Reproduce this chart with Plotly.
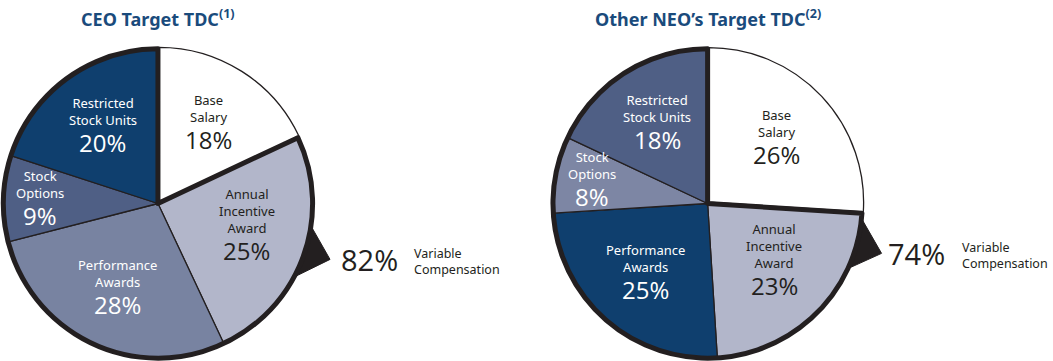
import math
import plotly.graph_objects as go

# ---- data ----
components = ["Base Salary", "Annual Incentive Award", "Performance Awards", "Stock Options", "Restricted Stock Units"]
label_lines = ["Base<br>Salary", "Annual<br>Incentive<br>Award", "Performance<br>Awards", "Stock<br>Options", "Restricted<br>Stock Units"]
ceo_values = [18, 25, 28, 9, 20]
neo_values = [26, 23, 25, 8, 18]
ceo_variable = 82
neo_variable = 74
titles = ["CEO Target TDC<sup>(1)</sup>", "Other NEO’s Target TDC<sup>(2)</sup>"]

# ---- styles ----
W, H = 1053, 361
MT, MB = 47, 1
PH = H - MT - MB
FONT = "Noto Sans"
PFONT = "Open Sans"
DARK = "#231f20"
ceo_colors = ["#ffffff", "#b2b6ca", "#7883a1", "#4f5f85", "#0f3f6e"]
neo_colors = ["#ffffff", "#b2b6ca", "#0f3f6e", "#7d86a4", "#4f5f85"]
ceo_text_colors = [DARK, DARK, "white", "white", "white"]
neo_text_colors = [DARK, DARK, "white", "white", "white"]
PULL = 0.012
domains = [[0.0, 0.30], [0.522, 0.822]]

fig = go.Figure()
for vals, cols, dom in [(ceo_values, ceo_colors, domains[0]),
                        (neo_values, neo_colors, domains[1])]:
    fig.add_trace(go.Pie(
        values=vals, labels=components, textinfo="none",
        marker=dict(colors=cols, line=dict(color=DARK, width=1.3)),
        sort=False, direction="clockwise", rotation=0,
        pull=[PULL, 0, 0, 0, 0], domain=dict(x=dom, y=[0, 1]),
        hoverinfo="label+percent", showlegend=False,
    ))
    # thick outline around the variable-compensation group
    fig.add_trace(go.Pie(
        values=[vals[0], sum(vals[1:])], labels=["fixed", "variable"],
        textinfo="none", marker=dict(colors=["rgba(0,0,0,0)", "rgba(0,0,0,0)"],
                                     line=dict(color=DARK, width=[0, 5])),
        sort=False, direction="clockwise", rotation=0,
        pull=[PULL, 0], domain=dict(x=dom, y=[0, 1]),
        hoverinfo="skip", showlegend=False,
    ))

R = PH / 2 / (1 + PULL)


def to_paper(px, py):
    return px / W, (H - MB - py) / PH


shapes = []
annotations = []
for dom, vals, tcols, var, title, (a0, a1, at, off1, off2) in [
        (domains[0], ceo_values, ceo_text_colors, ceo_variable, titles[0], (96, 121, 108, 9, 82)),
        (domains[1], neo_values, neo_text_colors, neo_variable, titles[1], (93, 117, 106, 4, 78))]:
    cx = (dom[0] + dom[1]) / 2 * W
    cy = MT + PH / 2

    def pxpt(ang, rad):
        a = math.radians(ang)
        return cx + rad * math.sin(a), cy - rad * math.cos(a)

    def pt(ang, rad):
        return to_paper(*pxpt(ang, rad))

    # slice labels placed along each slice's mid-angle
    total = sum(vals)
    start = 0.0
    for lab, v, tc in zip(label_lines, vals, tcols):
        span = 360.0 * v / total
        mid = start + span / 2
        start += span
        frac = 0.61 if v >= 12 else 0.76
        ax, ay = pxpt(mid, R * frac)
        lx, ly = to_paper(ax, ay + 4)
        annotations.append(dict(x=lx, y=ly, xref="paper", yref="paper", text=lab,
                                showarrow=False, xanchor="center", yanchor="bottom",
                                font=dict(family=FONT, size=13, color=tc)))
        qx, qy = to_paper(ax, ay - 3)
        annotations.append(dict(x=qx, y=qy, xref="paper", yref="paper", text=f"{v}%",
                                showarrow=False, xanchor="center", yanchor="top",
                                font=dict(family=PFONT, size=24, color=tc, weight=500)))

    # pointer triangle and callout
    p0, p1, p2 = pt(a0, R * 0.97), pt(at, R * 1.17), pt(a1, R * 0.97)
    shapes.append(dict(type="path", xref="paper", yref="paper", layer="below",
                       path=f"M {p0[0]},{p0[1]} L {p1[0]},{p1[1]} L {p2[0]},{p2[1]} Z",
                       fillcolor=DARK, line=dict(color=DARK, width=1)))
    tip = pt(at, R * 1.17)
    annotations.append(dict(x=tip[0] + off1 / W, y=tip[1], xref="paper", yref="paper",
                            text=f"{var}%", showarrow=False, xanchor="left", yanchor="middle",
                            font=dict(family=PFONT, size=29, color=DARK, weight=500)))
    annotations.append(dict(x=tip[0] + off2 / W, y=tip[1] - 2 / PH, xref="paper", yref="paper",
                            text="Variable<br>Compensation", showarrow=False, xanchor="left",
                            yanchor="middle", align="left",
                            font=dict(family=FONT, size=12.5, color=DARK)))
    tx, ty = to_paper(cx, 18)
    annotations.append(dict(x=tx, y=ty, xref="paper", yref="paper", text=f"<b>{title}</b>",
                            showarrow=False, xanchor="center", yanchor="middle",
                            font=dict(family=FONT, size=18, color="#1a4b7c")))

fig.update_layout(width=W, height=H, margin=dict(l=0, r=0, t=MT, b=MB),
                  paper_bgcolor="white", plot_bgcolor="white",
                  shapes=shapes, annotations=annotations)
fig.write_html("out.html", config={"displayModeBar": False},
               post_script="document.body.style.margin='0';")
